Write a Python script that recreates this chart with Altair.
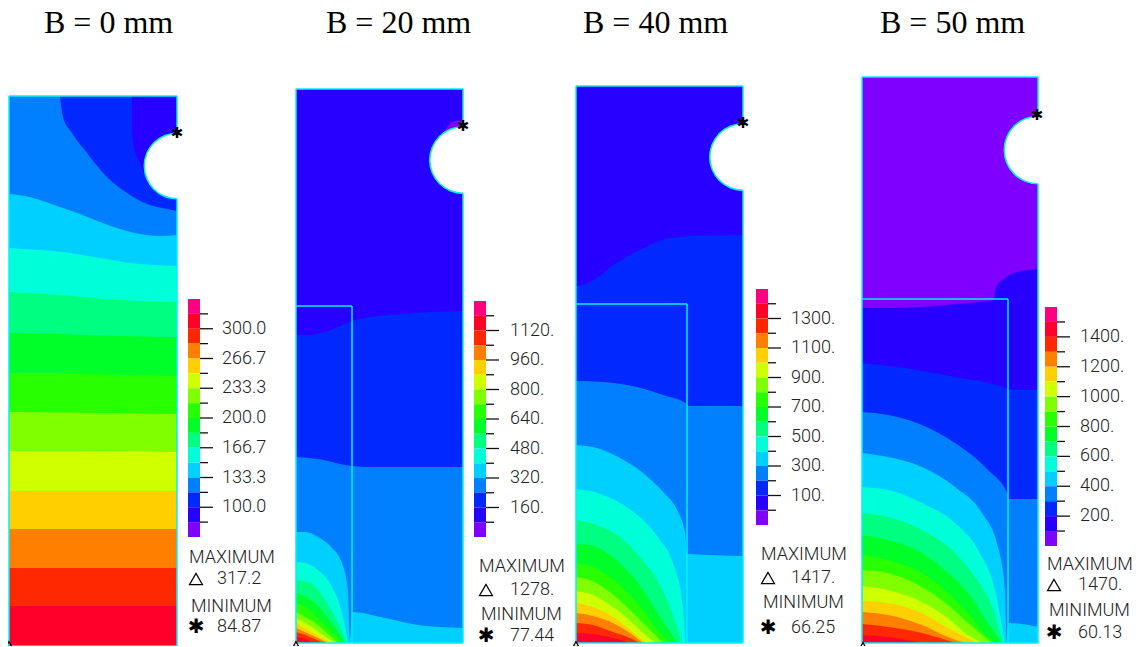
import altair as alt
import pandas as pd

# Contour colours, lowest to highest level
VIOLET, INDIGO, BLUE, AZURE, SKY, TEAL, SPRING, LIME1, LIME2, CHART, YELLOW, AMBER, ORANGE, VERMIL, RED, PINK = (
    "#8000ff", "#2800ff", "#0028ff", "#0080ff", "#00d0ff", "#00ffd8", "#00ff80", "#00ff28",
    "#28ff00", "#80ff00", "#d0ff00", "#ffd000", "#ff8000", "#ff2800", "#ff0028", "#ff0080")
legend_colors = [PINK, RED, VERMIL, ORANGE, AMBER, YELLOW, CHART, LIME2, LIME1, SPRING, TEAL, SKY, AZURE, BLUE, INDIGO, VIOLET]

titles = ["B = 0 mm", "B = 20 mm", "B = 40 mm", "B = 50 mm"]
title_x = [44, 326, 583, 880]

left = [9, 296, 576, 862]
right = [177, 463, 743, 1038]
top = [96, 89, 86, 77]
bottom = [646, 643, 643, 643]
hole_y = [166, 160, 157, 150]
hole_r = [33, 33.5, 33.5, 34]
inner_top = [None, 306, 304, 299]
inner_right = [None, 352, 687, 1008]

# (colour, anchor, curve points)
panel1 = [
    (AZURE, "b", [(9, 96), (177, 96)]),
    (BLUE, "t", [(60, 97), (63, 117), (72, 133), (87, 153), (107, 177), (127, 193), (147, 204), (167, 209), (177, 211)]),
    (INDIGO, "t", [(132, 123), (133, 143), (140, 163), (150, 185), (177, 185)]),
    (SKY, "b", [(9, 194), (25, 196), (40, 200), (60, 207), (80, 214), (100, 222), (120, 229), (140, 234), (160, 236), (177, 235)]),
    (TEAL, "b", [(9, 248), (40, 250), (70, 253), (100, 258), (130, 263), (177, 266)]),
    (SPRING, "b", [(9, 292), (60, 295), (120, 300), (177, 302)]),
    (LIME1, "b", [(9, 333), (60, 334), (120, 336), (177, 337)]),
    (LIME2, "b", [(9, 373), (60, 373), (120, 375), (177, 376)]),
    (CHART, "b", [(9, 412), (110, 413), (177, 414)]),
    (YELLOW, "b", [(9, 451), (90, 451), (177, 452)]),
    (AMBER, "b", [(9, 491), (177, 491)]),
    (ORANGE, "b", [(9, 529), (177, 529)]),
    (VERMIL, "b", [(9, 568), (177, 568)]),
    (RED, "b", [(9, 606), (177, 606)]),
]
panel2 = [
    (INDIGO, "b", [(296, 89), (463, 89)]),
    (VIOLET, "c", [(445, 130), (452, 122), (463, 120)]),
    (BLUE, "b", [(296, 335), (310, 335), (325, 332), (340, 326), (352, 321), (370, 317), (400, 314), (430, 312), (463, 311)]),
    (AZURE, "b", [(296, 457), (318, 459), (352, 466), (372, 467), (463, 467)]),
    (SKY, "b", [(296, 532), (305, 532), (318, 537), (332, 548), (342, 563), (348, 593), (350, 640), (352, 612), (385, 618), (418, 625), (463, 628)]),
    (TEAL, "b", [(296, 562), (305, 563), (318, 570), (332, 587), (342, 613), (348, 643)]),
    (SPRING, "b", [(296, 580), (310, 583), (322, 595), (335, 617), (347, 643)]),
    (LIME1, "b", [(296, 593), (308, 598), (320, 608), (332, 623), (345, 643)]),
    (LIME2, "b", [(296, 603), (307, 608), (318, 618), (328, 628), (342, 643)]),
    (CHART, "b", [(296, 612), (305, 617), (315, 623), (327, 633), (338, 643)]),
    (YELLOW, "b", [(296, 618), (312, 627), (323, 635), (335, 643)]),
    (AMBER, "b", [(296, 623), (308, 630), (320, 637), (332, 643)]),
    (ORANGE, "b", [(296, 628), (307, 633), (318, 638), (328, 643)]),
    (VERMIL, "b", [(296, 632), (305, 635), (315, 639), (323, 643)]),
    (RED, "b", [(296, 637), (305, 639), (312, 643)]),
]
panel3 = [
    (INDIGO, "b", [(576, 86), (743, 86)]),
    (BLUE, "b", [(576, 286), (585, 284), (597, 278), (613, 265), (630, 255), (650, 245), (670, 238), (697, 236), (743, 235)]),
    (AZURE, "b", [(576, 381), (603, 382), (637, 387), (663, 395), (687, 404), (688, 406), (743, 406)]),
    (SKY, "b", [(576, 445), (597, 448), (620, 458), (643, 473), (663, 492), (677, 510), (685, 533), (687, 553), (688, 554), (743, 556)]),
    (TEAL, "b", [(576, 489), (597, 493), (620, 503), (643, 520), (660, 540), (673, 563), (683, 607), (685, 643)]),
    (SPRING, "b", [(576, 520), (597, 525), (620, 537), (640, 557), (657, 580), (670, 607), (682, 643)]),
    (LIME1, "b", [(576, 544), (590, 545), (607, 553), (627, 570), (643, 590), (660, 617), (678, 643)]),
    (LIME2, "b", [(576, 563), (593, 567), (610, 577), (627, 592), (643, 610), (660, 633), (672, 643)]),
    (CHART, "b", [(576, 577), (590, 580), (607, 590), (627, 607), (643, 623), (663, 643)]),
    (YELLOW, "b", [(576, 591), (593, 595), (610, 605), (627, 618), (643, 633), (655, 643)]),
    (AMBER, "b", [(576, 603), (593, 607), (610, 615), (627, 627), (642, 640), (647, 643)]),
    (ORANGE, "b", [(576, 613), (597, 617), (613, 623), (630, 633), (643, 643)]),
    (VERMIL, "b", [(576, 623), (593, 625), (613, 632), (630, 638), (640, 643)]),
    (RED, "b", [(576, 633), (593, 634), (613, 638), (630, 643)]),
]
panel4 = [
    (VIOLET, "b", [(862, 77), (1038, 77)]),
    (INDIGO, "b", [(862, 308), (888, 308), (922, 307), (955, 304), (994, 300), (995, 290), (1005, 278), (1018, 272), (1038, 269)]),
    (BLUE, "b", [(862, 363), (905, 368), (955, 377), (1008, 389), (1009, 390), (1038, 390)]),
    (AZURE, "b", [(862, 412), (888, 415), (922, 425), (955, 443), (988, 470), (1008, 495), (1009, 499), (1038, 499)]),
    (SKY, "b", [(862, 453), (888, 457), (922, 467), (955, 487), (982, 513), (998, 547), (1005, 590), (1007, 642), (1009, 623), (1038, 627)]),
    (TEAL, "b", [(862, 487), (888, 490), (922, 503), (955, 523), (978, 550), (995, 590), (1005, 643)]),
    (SPRING, "b", [(862, 513), (888, 517), (922, 530), (952, 550), (975, 577), (992, 607), (1003, 643)]),
    (LIME1, "b", [(862, 535), (888, 540), (922, 553), (948, 573), (968, 593), (988, 623), (1002, 643)]),
    (LIME2, "b", [(862, 555), (888, 560), (922, 573), (948, 593), (968, 613), (988, 637), (997, 643)]),
    (CHART, "b", [(862, 570), (888, 573), (922, 587), (948, 605), (968, 623), (992, 643)]),
    (YELLOW, "b", [(862, 586), (888, 590), (922, 602), (948, 618), (968, 635), (983, 643)]),
    (AMBER, "b", [(862, 601), (888, 603), (922, 613), (948, 628), (978, 643)]),
    (ORANGE, "b", [(862, 612), (888, 615), (922, 625), (948, 637), (965, 643)]),
    (VERMIL, "b", [(862, 624), (888, 627), (922, 633), (955, 643)]),
    (RED, "b", [(862, 635), (888, 637), (922, 643)]),
]
panels = [panel1, panel2, panel3, panel4]

# Legends
bar_left = [188, 474, 756, 1045]
bar_top = [299, 301, 289, 307]
bar_bottom = [537, 537, 525, 546]
tick_labels = [
    ["300.0", "266.7", "233.3", "200.0", "166.7", "133.3", "100.0"],
    ["1120.", "960.", "800.", "640.", "480.", "320.", "160."],
    ["1300.", "1100.", "900.", "700.", "500.", "300.", "100."],
    ["1400.", "1200.", "1000.", "800.", "600.", "400.", "200."],
]
label_x = [222, 510, 791, 1080]
max_text_y = [558, 567, 555, 565]
max_val_y = [579, 590, 578, 585]
min_text_y = [607, 615, 603, 611]
min_val_y = [627, 636, 628, 633]
stat_x = [189, 479, 761, 1047]
max_vals = ["317.2", "1278.", "1417.", "1470."]
min_vals = ["84.87", "77.44", "66.25", "60.13"]
val_x = [217, 510, 791, 1078]
star_xy = [(177, 133), (463, 126), (743, 123), (1037, 115)]
corner_xy = [(9, 644), (296, 644), (576, 644), (863, 645)]

X = alt.Scale(domain=[8, 1136])
Y = alt.Scale(domain=[646, 8])
xe = lambda f="x": alt.X(f"{f}:Q", scale=X, axis=None)
ye = lambda f="y": alt.Y(f"{f}:Q", scale=Y, axis=None, stack=None)
CYAN = "#00f0ff"

layers = []

# Contour bands, painted lowest level first
for p, curves in enumerate(panels):
    for col, anchor, pts in curves:
        y2 = {"b": bottom[p], "t": top[p], "c": 140}[anchor]
        d = pd.DataFrame({"x": [a for a, _ in pts], "y": [b for _, b in pts], "y2": [y2] * len(pts)})
        layers.append(alt.Chart(d).mark_area(orient="vertical", interpolate="monotone", color=col, opacity=1).encode(
            x=xe(), y=ye(), y2="y2:Q"))

# Notches and outlines
for p in range(4):
    d = pd.DataFrame({"x": [right[p]], "y": [hole_y[p]]})
    layers.append(alt.Chart(d).mark_arc(color="white", radius=hole_r[p], radius2=0, theta=0, theta2=6.28319).encode(x=xe(), y=ye()))
    layers.append(alt.Chart(d).mark_arc(color=CYAN, radius=hole_r[p] + 0.5, radius2=hole_r[p] - 1, theta=3.14159, theta2=6.28319).encode(x=xe(), y=ye()))

segs = []
for p in range(4):
    segs += [dict(x=left[p], x2=left[p], y=top[p], y2=bottom[p]),
             dict(x=left[p], x2=right[p], y=top[p], y2=top[p]),
             dict(x=left[p], x2=right[p], y=bottom[p], y2=bottom[p]),
             dict(x=right[p], x2=right[p], y=top[p], y2=hole_y[p] - hole_r[p]),
             dict(x=right[p], x2=right[p], y=hole_y[p] + hole_r[p], y2=bottom[p])]
    if inner_top[p]:
        segs += [dict(x=left[p], x2=inner_right[p], y=inner_top[p], y2=inner_top[p]),
                 dict(x=inner_right[p], x2=inner_right[p], y=inner_top[p], y2=bottom[p])]
layers.append(alt.Chart(pd.DataFrame(segs)).mark_rule(color=CYAN, strokeWidth=1.5).encode(
    x=xe(), x2="x2:Q", y=ye(), y2="y2:Q"))

# Colour bars and ticks
bar_rows, tick_rows, label_rows = [], [], []
for p in range(4):
    step = (bar_bottom[p] - bar_top[p]) / 16
    for i, c in enumerate(legend_colors):
        bar_rows.append(dict(x=bar_left[p], x2=bar_left[p] + 12, y=bar_top[p] + i * step, y2=bar_top[p] + (i + 1) * step, c=c))
    for i in range(1, 16):
        major = i % 2 == 0
        yy = bar_top[p] + i * step
        tick_rows.append(dict(x=bar_left[p] + 12, x2=bar_left[p] + (25 if major else 20), y=yy))
        if major:
            label_rows.append(dict(x=label_x[p], y=yy, t=tick_labels[p][i // 2 - 1]))
layers.append(alt.Chart(pd.DataFrame(bar_rows)).mark_rect().encode(
    x=xe(), x2="x2:Q", y=ye(), y2="y2:Q", color=alt.Color("c:N", scale=None)))
layers.append(alt.Chart(pd.DataFrame(tick_rows)).mark_rule(color="#111111", strokeWidth=1.3).encode(
    x=xe(), x2="x2:Q", y=ye()))

FONT = "Roboto"
text_rows = list(label_rows)
for p in range(4):
    text_rows += [dict(x=stat_x[p], y=max_text_y[p], t="MAXIMUM"),
                  dict(x=stat_x[p] + 2, y=min_text_y[p], t="MINIMUM"),
                  dict(x=val_x[p], y=max_val_y[p], t=max_vals[p]),
                  dict(x=val_x[p], y=min_val_y[p], t=min_vals[p])]
layers.append(alt.Chart(pd.DataFrame(text_rows)).mark_text(
    font=FONT, fontSize=18, fontWeight=300, align="left", baseline="middle", color="#222222").encode(
    x=xe(), y=ye(), text="t:N"))

# Titles
layers.append(alt.Chart(pd.DataFrame({"x": title_x, "y": [33] * 4, "t": titles})).mark_text(
    font="Liberation Serif", fontSize=32, align="left", baseline="alphabetic", color="black").encode(
    x=xe(), y=ye(), text="t:N"))

# Min stars and max triangles
star_rows = [dict(x=a, y=b, z=15) for a, b in star_xy] + [dict(x=stat_x[p] + 7, y=min_val_y[p], z=20) for p in range(4)]
layers.append(alt.Chart(pd.DataFrame(star_rows)).mark_text(
    text="\u2731", font="DejaVu Sans", color="black", baseline="middle", align="center").encode(
    x=xe(), y=ye(), size=alt.Size("z:Q", scale=None)))
tri_rows = [dict(x=stat_x[p] + 7, y=max_val_y[p], z=170) for p in range(4)] + [dict(x=a, y=b, z=30) for a, b in corner_xy]
layers.append(alt.Chart(pd.DataFrame(tri_rows)).mark_point(
    shape="triangle-up", filled=False, color="black", strokeWidth=1.2, opacity=1).encode(
    x=xe(), y=ye(), size=alt.Size("z:Q", scale=None)))

chart = alt.layer(*layers).properties(
    width=1128, height=638, padding=0, autosize=alt.AutoSizeParams(type="none"), background="white"
).configure_view(stroke=None)

chart.save("out.html", embed_options={"renderer": "svg", "actions": False})
